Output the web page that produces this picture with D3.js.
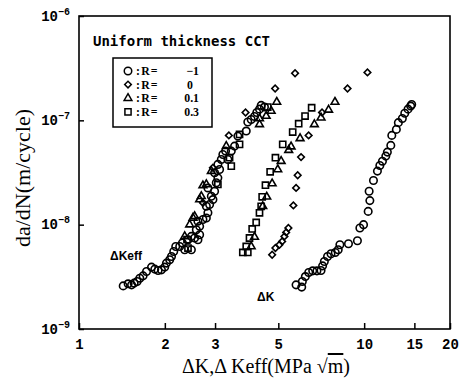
<!DOCTYPE html>
<html><head><meta charset="utf-8">
<script src="https://cdn.jsdelivr.net/npm/d3@7"></script>
<style>
body{margin:0;background:#fff;}
svg{display:block;}
</style></head>
<body><svg id="chart" width="467" height="380"></svg>
<script>
// ---- data (ΔK in MPa√m, da/dN in m/cycle) ----
const xTicks = [1, 2, 3, 5, 10, 15, 20];
const yTicks = [1e-9, 1e-8, 1e-7, 1e-6];
const yTickExp = ["-9", "-8", "-7", "-6"];
const legendLabels = ["-1", "0", "0.1", "0.3"];

// R = -1, ΔKeff
const rm1Keff = [[1.429,2.59e-9],[1.487,2.71e-9],[1.529,2.65e-9],[1.561,2.75e-9],[1.599,2.85e-9],[1.634,3.07e-9],[1.678,3.23e-9],[1.725,3.56e-9],[1.796,3.92e-9],[1.844,3.75e-9],[1.894,3.64e-9],[1.946,3.69e-9],[1.998,3.92e-9],[2.026,4.28e-9],[2.080,4.61e-9],[2.110,4.96e-9],[2.149,5.54e-9],[2.184,6.18e-9],[2.255,6.18e-9],[2.305,6.67e-9],[2.348,5.75e-9],[2.478,5.75e-9],[2.411,7.17e-9],[2.478,7.72e-9],[2.544,7.45e-9],[2.613,7.17e-9],[2.649,8.01e-9],[2.579,8.95e-9],[2.649,9.63e-9],[2.613,1.08e-8],[2.720,1.12e-8],[2.796,1.16e-8],[2.832,1.30e-8],[2.796,1.50e-8],[2.871,1.56e-8],[2.949,1.74e-8],[2.911,1.87e-8],[2.989,2.09e-8],[2.832,2.25e-8],[3.030,2.52e-8],[3.069,2.81e-8],[2.989,3.14e-8],[3.112,3.38e-8],[3.069,3.78e-8],[3.155,4.22e-8],[3.195,4.71e-8],[3.266,5.07e-8],[3.327,4.22e-8],[3.420,5.07e-8],[3.512,5.66e-8],[3.606,7.06e-8],[3.859,7.89e-8],[3.908,9.63e-8],[4.016,1.02e-7],[4.125,1.09e-7],[4.202,1.19e-7],[4.295,1.28e-7],[4.354,1.39e-7],[4.471,1.34e-7]];
// R = -1, ΔK
const rm1K = [[5.77,2.65e-9],[6.04,2.52e-9],[6.07,2.85e-9],[6.22,3.18e-9],[6.39,3.48e-9],[6.60,3.61e-9],[6.83,3.61e-9],[7.06,3.64e-9],[7.15,4.03e-9],[7.25,4.44e-9],[7.44,4.96e-9],[7.65,5.26e-9],[7.92,5.42e-9],[8.11,5.75e-9],[8.22,6.42e-9],[8.81,6.57e-9],[9.47,7.02e-9],[9.66,9.29e-9],[9.95,1.0e-8],[10.33,1.34e-8],[10.47,1.70e-8],[10.41,2.09e-8],[10.78,2.65e-8],[11.13,3.26e-8],[11.35,3.69e-8],[11.59,4.06e-8],[11.91,4.54e-8],[12.06,4.96e-8],[12.40,5.75e-8],[12.50,7.17e-8],[12.97,8.19e-8],[13.18,9.5e-8],[13.61,1.04e-7],[13.88,1.17e-7],[14.25,1.28e-7],[14.56,1.37e-7],[14.68,1.42e-7]];
// R = 0
const r0Keff = [[2.720,1.62e-8],[2.949,3.51e-8],[3.354,7.17e-8],[3.837,1.19e-7],[4.873,2.02e-7],[5.724,2.83e-7]];
const r0K = [[4.757,5.15e-9],[4.885,5.97e-9],[5.045,6.42e-9],[5.156,6.91e-9],[5.253,7.72e-9],[5.325,8.43e-9],[5.424,9.29e-9],[5.646,1.53e-8],[5.771,2.25e-8],[5.846,2.98e-8],[6.008,4.44e-8],[6.387,7.17e-8],[7.116,1.19e-7],[8.743,2.02e-7],[10.27,2.88e-7]];
// R = 0.1
const r01Keff = [[2.348,7.72e-9],[2.444,1.0e-8],[2.510,1.16e-8],[2.544,1.20e-8],[2.649,1.74e-8],[2.685,1.87e-8],[2.720,2.37e-8],[2.796,2.43e-8],[2.911,3.26e-8],[3.284,5.66e-8],[4.295,9.15e-8],[4.295,1.04e-7],[4.533,1.10e-7],[4.719,1.23e-7],[4.936,1.50e-7]];
const r01K = [[4.016,6.18e-9],[4.125,7.62e-9],[4.410,1.50e-8],[4.554,1.85e-8],[4.757,2.48e-8],[4.977,3.38e-8],[5.115,4.06e-8],[5.437,5.18e-8],[5.543,5.59e-8],[5.960,6.71e-8],[6.689,9.15e-8],[7.059,1.06e-7],[7.503,1.26e-7],[7.899,1.50e-7]];
// R = 0.3
const r03Keff = [[2.411,5.97e-9],[2.392,7.17e-9],[3.069,2.43e-8],[3.373,4.38e-8],[3.420,3.64e-8],[3.656,5.88e-8],[3.656,7.33e-8],[4.591,1.34e-7]];
const r03K = [[3.754,5.42e-9],[3.908,5.42e-9],[3.859,6.18e-9],[3.962,7.45e-9],[4.049,9.09e-9],[4.182,1.05e-8],[4.295,1.30e-8],[4.354,1.50e-8],[4.389,1.85e-8],[4.507,2.39e-8],[4.681,3.21e-8],[4.885,4.38e-8],[5.181,5.88e-8],[5.615,7.72e-8],[5.893,9.29e-8],[6.205,1.10e-7],[6.544,1.32e-7]];

// ---- drawing ----
const svg = d3.select("#chart");
const L = 79, R = 450, T = 16, B = 329;
const x = d3.scaleLog().domain([1, 20]).range([L, R]);
const y = d3.scaleLog().domain([1e-9, 1e-6]).range([B, T]);

const sym = {
  circle: {gen: d3.symbol().type(d3.symbolCircle).size(44), rot: 0},
  diamond: {gen: d3.symbol().type(d3.symbolSquare).size(22), rot: 45},
  triangle: {gen: d3.symbol().type(d3.symbolTriangle).size(26), rot: 0},
  square: {gen: d3.symbol().type(d3.symbolSquare).size(38), rot: 0}
};
const series = [
  {data: rm1Keff.concat(rm1K), shape: "circle"},
  {data: r0Keff.concat(r0K), shape: "diamond"},
  {data: r01Keff.concat(r01K), shape: "triangle"},
  {data: r03Keff.concat(r03K), shape: "square"}
];

// frame
svg.append("rect").attr("x", L).attr("y", T).attr("width", R - L).attr("height", B - T)
  .attr("fill", "none").attr("stroke", "#000").attr("stroke-width", 1.6);

// x axis
const gx = svg.append("g").attr("transform", `translate(0,${B})`)
  .call(d3.axisBottom(x).tickValues(xTicks).tickFormat(d3.format("d"))
    .tickSizeInner(-6).tickSizeOuter(0).tickPadding(10));
gx.select(".domain").remove();
gx.selectAll("line").attr("stroke", "#000").attr("stroke-width", 1.5);
gx.selectAll("text").attr("font-family", "Liberation Mono").attr("font-weight", "bold")
  .attr("font-size", 14).attr("fill", "#000");

// y axis
const gy = svg.append("g").attr("transform", `translate(${L},0)`)
  .call(d3.axisLeft(y).tickValues(yTicks).tickFormat("")
    .tickSizeInner(-5).tickSizeOuter(0).tickPadding(8));
gy.select(".domain").remove();
gy.selectAll("line").attr("stroke", "#000").attr("stroke-width", 1.5);
gy.selectAll(".tick").each(function(d, i) {
  const t = d3.select(this).append("text")
    .attr("x", -9).attr("y", 4).attr("text-anchor", "end")
    .attr("font-family", "Liberation Mono").attr("font-weight", "bold")
    .attr("font-size", 14).attr("fill", "#000");
  t.append("tspan").text("10");
  t.append("tspan").attr("dy", -6).attr("font-size", 10).text(yTickExp[i].replace("-", "\u2212"));
});

// axis titles
svg.append("text").attr("x", 266).attr("y", 373).attr("text-anchor", "middle")
  .attr("font-family", "Liberation Serif").attr("font-size", 20).attr("fill", "#000")
  .call(t => {
    t.append("tspan").text("\u0394K,\u0394 Keff(MPa ");
    t.append("tspan").text("\u221A");
    t.append("tspan").attr("text-decoration", "overline").text("m");
    t.append("tspan").text(")");
  });
svg.append("text").attr("transform", "translate(30,178) rotate(-90)").attr("text-anchor", "middle")
  .attr("font-family", "Liberation Serif").attr("font-size", 22).attr("fill", "#000")
  .text("da/dN(m/cycle)");

// markers
series.forEach(s => {
  svg.append("g").selectAll("path").data(s.data).join("path")
    .attr("transform", d => `translate(${x(d[0])},${y(d[1])}) rotate(${sym[s.shape].rot})`)
    .attr("d", sym[s.shape].gen())
    .attr("fill", "none").attr("stroke", "#000").attr("stroke-width", 1.6);
});

// title
svg.append("text").attr("x", 93).attr("y", 46)
  .attr("font-family", "DejaVu Sans Mono").attr("font-weight", "bold").attr("font-size", 14)
  .attr("fill", "#000").text("Uniform thickness CCT");

// legend
svg.append("rect").attr("x", 113).attr("y", 58).attr("width", 99).attr("height", 69)
  .attr("fill", "none").attr("stroke", "#000").attr("stroke-width", 1.5);
const lg = svg.append("g").selectAll("g").data(series).join("g")
  .attr("transform", (d, i) => `translate(0,${71 + i * 13.6})`);
lg.append("path").attr("transform", d => `translate(128,0) rotate(${sym[d.shape].rot})`)
  .attr("d", d => sym[d.shape].gen()).attr("fill", "none").attr("stroke", "#000").attr("stroke-width", 1.5);
lg.append("text").attr("x", 136).attr("y", 4.2)
  .attr("font-family", "Liberation Serif").attr("font-weight", "bold").attr("font-size", 11.8)
  .attr("letter-spacing", 1.2).attr("fill", "#000").text(":R=");
lg.append("text").attr("x", (d, i) => i === 1 ? 193 : 199).attr("y", 4.2).attr("text-anchor", "end")
  .attr("font-family", "Liberation Serif").attr("font-weight", "bold").attr("font-size", 11.8)
  .attr("fill", "#000").text((d, i) => legendLabels[i].replace("-", "\u2212"));

// curve labels
svg.append("text").attr("x", 110).attr("y", 260)
  .attr("font-family", "Liberation Sans").attr("font-weight", "bold").attr("font-size", 12)
  .attr("fill", "#000").text("\u0394Keff");
svg.append("text").attr("x", 257).attr("y", 301)
  .attr("font-family", "Liberation Sans").attr("font-weight", "bold").attr("font-size", 12)
  .attr("fill", "#000").text("\u0394K");
</script></body></html>
